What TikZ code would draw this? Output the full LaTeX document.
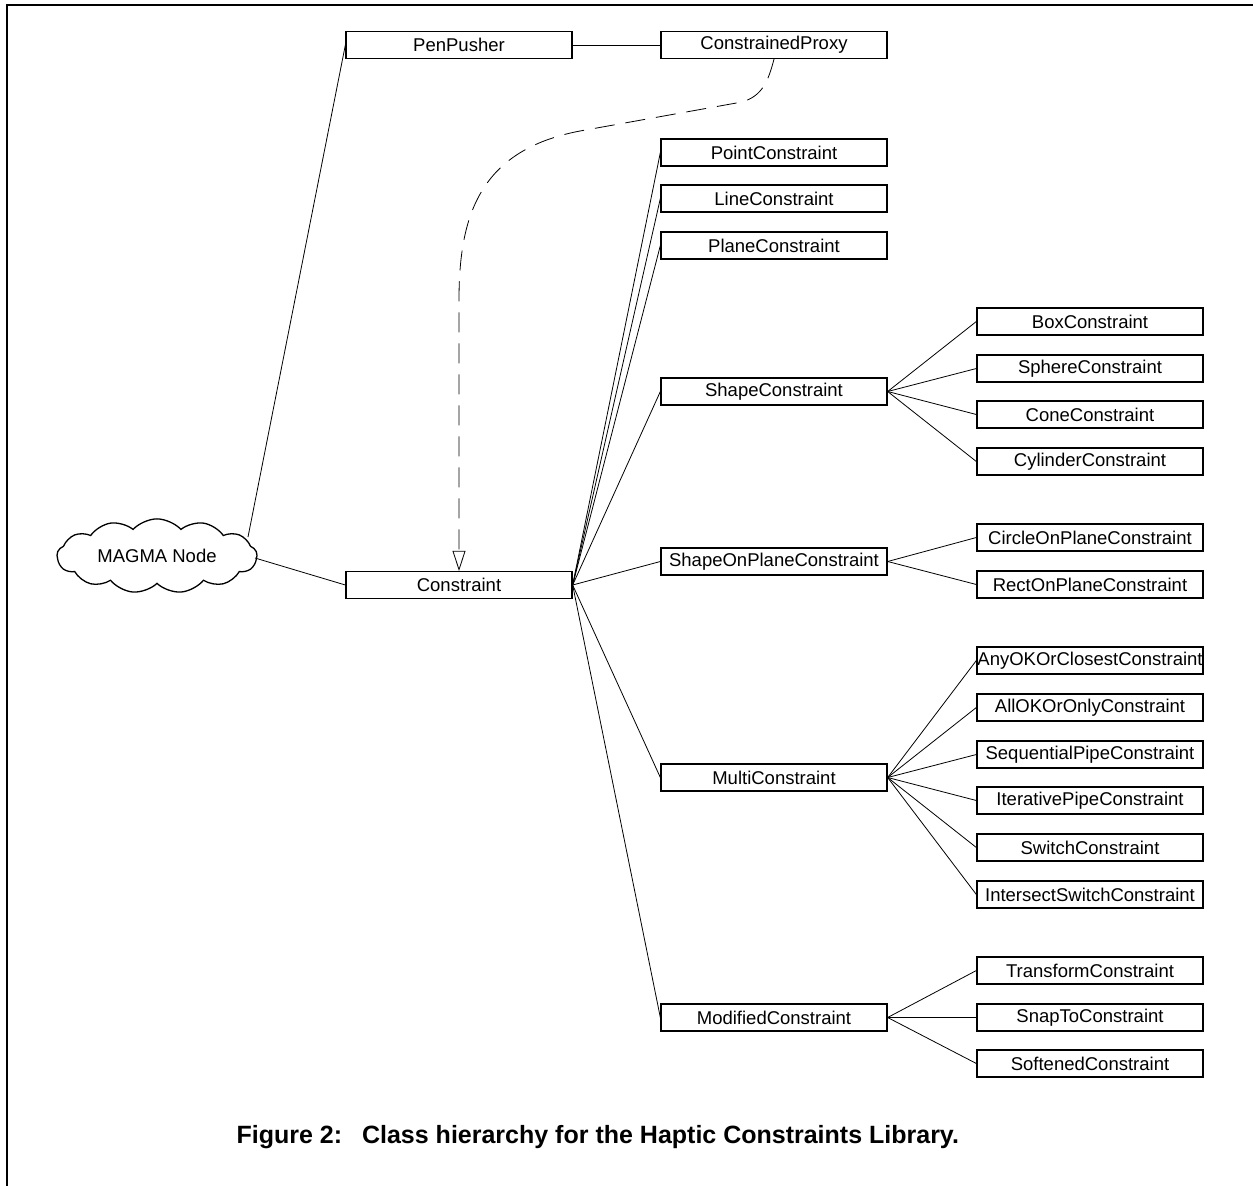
\documentclass[tikz,border=0pt]{standalone}
\usepackage{fontspec}
\setmainfont{Liberation Sans}
\usetikzlibrary{shapes.symbols,arrows.meta}
\begin{document}
\begin{tikzpicture}[x=1pt,y=-1pt,
  cls/.style={draw,line width=1.3pt,rectangle,minimum width=226pt,minimum height=27pt,
    inner sep=0pt,font=\fontsize{18.5}{18.5}\selectfont},
  link/.style={line width=0.8pt},
  frameline/.style={line width=2pt}]
\useasboundingbox (0,0) rectangle (1253,1186);
\draw[frameline] (1253,5) -- (7,5) -- (7,1186);

% left column
\node[cls] (pen) at (459,45) {PenPusher};
\node[cls] (con) at (459,585) {Constraint};
% middle column
\node[cls] (proxy) at (774,45) {ConstrainedProxy};
\node[cls] (point) at (774,152.5) {PointConstraint};
\node[cls] (line) at (774,198.5) {LineConstraint};
\node[cls] (plane) at (774,245.5) {PlaneConstraint};
\node[cls] (shape) at (774,391.5) {ShapeConstraint};
\node[cls] (sop) at (774,561.5) {ShapeOnPlaneConstraint};
\node[cls] (multi) at (774,777.5) {MultiConstraint};
\node[cls] (mod) at (774,1017.5) {ModifiedConstraint};
% right column
\node[cls] (box) at (1090,321.5) {BoxConstraint};
\node[cls] (sphere) at (1090,368.5) {SphereConstraint};
\node[cls] (cone) at (1090,414.5) {ConeConstraint};
\node[cls] (cyl) at (1090,461.5) {CylinderConstraint};
\node[cls] (circ) at (1090,537.5) {CircleOnPlaneConstraint};
\node[cls] (rect) at (1090,584.5) {RectOnPlaneConstraint};
\node[cls] (anyok) at (1090,660.5) {AnyOKOrClosestConstraint};
\node[cls] (allok) at (1090,707.5) {AllOKOrOnlyConstraint};
\node[cls] (seq) at (1090,754.5) {SequentialPipeConstraint};
\node[cls] (iter) at (1090,800.5) {IterativePipeConstraint};
\node[cls] (switch) at (1090,847.5) {SwitchConstraint};
\node[cls] (isect) at (1090,894.5) {IntersectSwitchConstraint};
\node[cls] (trans) at (1090,970.5) {TransformConstraint};
\node[cls] (snap) at (1090,1017.5) {SnapToConstraint};
\node[cls] (soft) at (1090,1063.5) {SoftenedConstraint};

% the MAGMA cloud
\node[cloud,draw,line width=1.3pt,cloud puffs=13,cloud puff arc=95,aspect=2.9,
  minimum width=200pt,minimum height=68pt,inner sep=0pt,
  font=\fontsize{18.5}{18.5}\selectfont] (magma) at (157,556) {MAGMA Node};
\coordinate (m1) at (248,537);
\coordinate (m2) at (255,558);

% links
\draw[link] (m1) -- (pen.west);
\draw[link] (m2) -- (con.west);
\draw[link] (pen.east) -- (proxy.west);
\foreach \c in {point,line,plane,shape,sop,multi,mod}
  \draw[link] (con.east) -- (\c.west);
\foreach \c in {box,sphere,cone,cyl}
  \draw[link] (shape.east) -- (\c.west);
\foreach \c in {circ,rect}
  \draw[link] (sop.east) -- (\c.west);
\foreach \c in {anyok,allok,seq,iter,switch,isect}
  \draw[link] (multi.east) -- (\c.west);
\foreach \c in {trans,snap,soft}
  \draw[link] (mod.east) -- (\c.west);

% dashed dependency
\draw[link,dash pattern=on 20pt off 11pt,-{Triangle[open,length=20pt,width=13pt]}]
  (proxy.south) .. controls (768,82) and (762,96) .. (742,102)
  -- (580,131) .. controls (480,150) and (459,215) .. (459,300)
  -- (con.north);

\node[font=\bfseries\fontsize{25}{25}\selectfont,anchor=west] (cap) at (233,1137)
  {Figure 2:\hspace{20pt}Class hierarchy for the Haptic Constraints Library.};
\end{tikzpicture}
\end{document}
